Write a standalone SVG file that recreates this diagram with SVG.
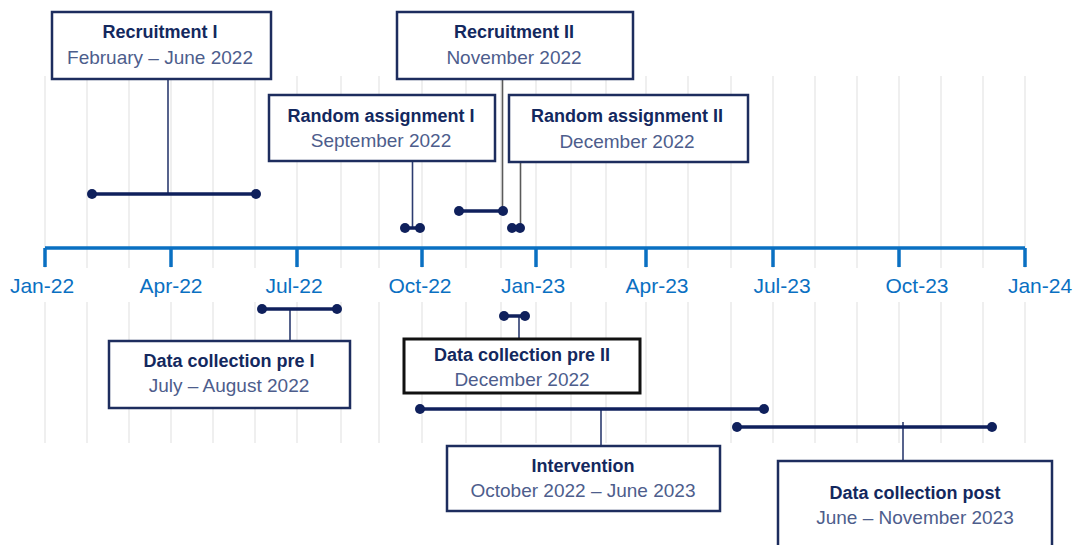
<svg xmlns="http://www.w3.org/2000/svg" width="1080" height="545" viewBox="0 0 1080 545">
<style>
.grid{stroke:#efefef;stroke-width:2}
.axis{stroke:#0a70c2;stroke-width:3.5;fill:none}
.lbl{font-family:"Liberation Sans",Arial,sans-serif;font-size:21px;fill:#0a70c2;text-anchor:middle}
.box{fill:#fff;stroke:#1d2d5e;stroke-width:2.5}
.box2{fill:#fff;stroke:#111;stroke-width:3}
.t{font-family:"Liberation Sans",Arial,sans-serif;font-size:18px;font-weight:bold;fill:#13285e;text-anchor:middle}
.s{font-family:"Liberation Sans",Arial,sans-serif;font-size:19px;fill:#4d5d8c;text-anchor:middle}
.rng{stroke:#0f205c;stroke-width:3.5}
.dot{fill:#0f205c}
.con{stroke:#2c3c70;stroke-width:1.6;fill:none}
.cong{stroke:#5a5a5a;stroke-width:1.6;fill:none}
</style>
<rect width="1080" height="545" fill="#fff"/>
<g id="grid">
<g class="grid">
<path d="M45 76V268M87 76V268M129 76V268M171 76V268M213 76V268M255 76V268M297 76V268M341 76V268M379 76V268M422 76V268M466 76V268M501 76V268M536 76V268M571 76V268M606 76V268M646 76V268M688 76V268M731 76V268M773 76V268M815 76V268M857 76V268M899 76V268M941 76V268M983 76V268M1025 76V268"/>
<path d="M45 302V443M87 302V443M129 302V443M171 302V443M213 302V443M255 302V443M297 302V443M341 302V443M379 302V443M422 302V443M466 302V443M501 302V443M536 302V443M571 302V443M606 302V443M646 302V443M688 302V443M731 302V443M773 302V443M815 302V443M857 302V443M899 302V443M941 302V443M983 302V443M1025 302V443"/>
</g>
</g>
<g id="axis">
<path class="axis" d="M45 248H1025M45 248V267M171 248V267M297 248V267M422 248V267M536 248V267M646 248V267M773 248V267M899 248V267M1025 248V267"/>
<text class="lbl" x="42" y="293">Jan-22</text>
<text class="lbl" x="171" y="293">Apr-22</text>
<text class="lbl" x="294" y="293">Jul-22</text>
<text class="lbl" x="420" y="293">Oct-22</text>
<text class="lbl" x="533" y="293">Jan-23</text>
<text class="lbl" x="657" y="293">Apr-23</text>
<text class="lbl" x="782" y="293">Jul-23</text>
<text class="lbl" x="917" y="293">Oct-23</text>
<text class="lbl" x="1040" y="293">Jan-24</text>
</g>
<g id="connectors">
<path class="con" d="M168 79V194"/>
<path class="cong" d="M502.5 79V211"/>
<path class="con" d="M412.5 161V228"/>
<path class="cong" d="M520.5 163V228"/>
<path class="con" d="M290 309V341"/>
<path class="con" d="M519 316V339"/>
<path class="con" d="M601 409V446"/>
<path class="con" d="M903 422V461"/>
</g>
<g id="ranges">
<g id="r-recruit1"><path class="rng" d="M92 194H256"/><circle class="dot" cx="92" cy="194" r="5"/><circle class="dot" cx="256" cy="194" r="5"/></g>
<g id="r-recruit2"><path class="rng" d="M459 211H503"/><circle class="dot" cx="459" cy="211" r="5"/><circle class="dot" cx="503" cy="211" r="5"/></g>
<g id="r-rand1"><path class="rng" d="M405 228H420"/><circle class="dot" cx="405" cy="228" r="5"/><circle class="dot" cx="420" cy="228" r="5"/></g>
<g id="r-rand2"><circle class="dot" cx="512" cy="228" r="5"/><circle class="dot" cx="520" cy="228" r="5"/></g>
<g id="r-pre1"><path class="rng" d="M262 309H337"/><circle class="dot" cx="262" cy="309" r="5"/><circle class="dot" cx="337" cy="309" r="5"/></g>
<g id="r-pre2"><path class="rng" d="M504 316H525"/><circle class="dot" cx="504" cy="316" r="5"/><circle class="dot" cx="525" cy="316" r="5"/></g>
<g id="r-int"><path class="rng" d="M420 409H764"/><circle class="dot" cx="420" cy="409" r="5"/><circle class="dot" cx="764" cy="409" r="5"/></g>
<g id="r-post"><path class="rng" d="M737 427H992"/><circle class="dot" cx="737" cy="427" r="5"/><circle class="dot" cx="992" cy="427" r="5"/></g>
</g>
<g id="recruitment1">
<rect class="box" x="52" y="12" width="219" height="67"/>
<text class="t" x="160" y="38">Recruitment I</text>
<text class="s" x="160" y="64">February – June 2022</text>
</g>
<g id="recruitment2">
<rect class="box" x="397" y="12" width="236" height="67"/>
<text class="t" x="514" y="38">Recruitment II</text>
<text class="s" x="514" y="64">November 2022</text>
</g>
<g id="random1">
<rect class="box" x="269" y="95" width="226" height="66"/>
<text class="t" x="381" y="122">Random assignment I</text>
<text class="s" x="381" y="147">September 2022</text>
</g>
<g id="random2">
<rect class="box" x="509" y="95" width="239" height="67"/>
<text class="t" x="627" y="122">Random assignment II</text>
<text class="s" x="627" y="148">December 2022</text>
</g>
<g id="pre1">
<rect class="box" x="109" y="341" width="241" height="67"/>
<text class="t" x="229" y="367">Data collection pre I</text>
<text class="s" x="229" y="392">July – August 2022</text>
</g>
<g id="pre2">
<rect class="box2" x="404" y="339" width="236" height="54"/>
<text class="t" x="522" y="361">Data collection pre II</text>
<text class="s" x="522" y="386">December 2022</text>
</g>
<g id="intervention">
<rect class="box" x="447" y="446" width="273" height="65"/>
<text class="t" x="583" y="472">Intervention</text>
<text class="s" x="583" y="497">October 2022 – June 2023</text>
</g>
<g id="post">
<rect class="box" x="778" y="461" width="274" height="100"/>
<text class="t" x="915" y="499">Data collection post</text>
<text class="s" x="915" y="524">June – November 2023</text>
</g>
</svg>
